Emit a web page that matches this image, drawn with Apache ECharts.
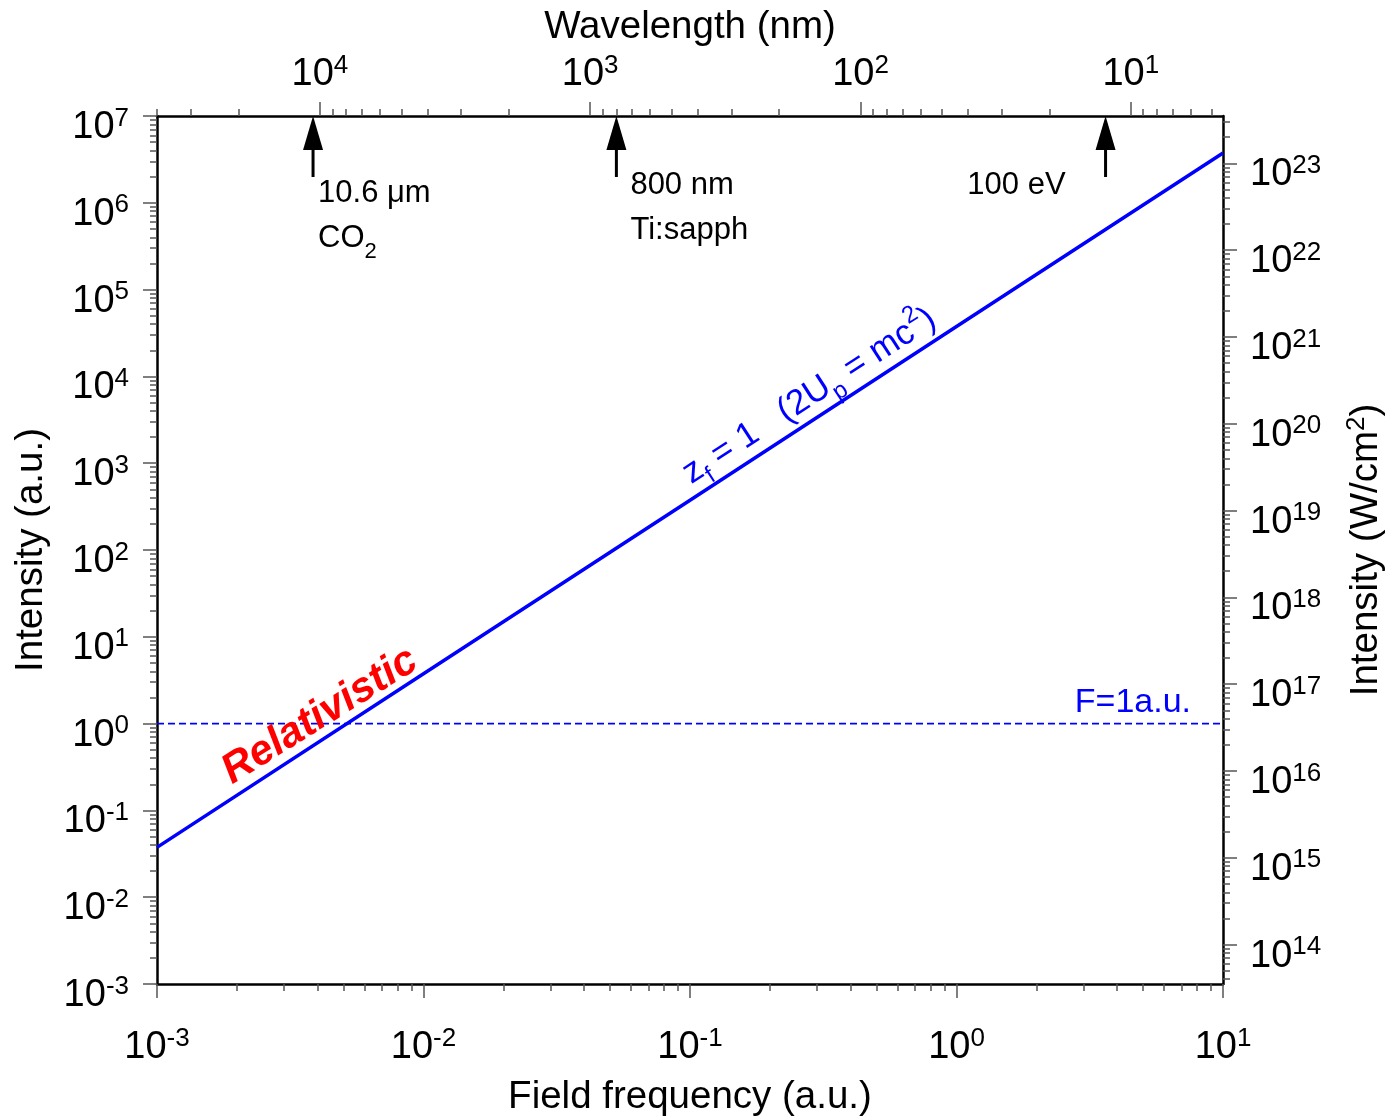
<!DOCTYPE html>
<html>
<head>
<meta charset="utf-8">
<script src="https://cdn.jsdelivr.net/npm/echarts@6/dist/echarts.min.js"></script>
<style>
  html, body { margin: 0; padding: 0; background: #fff; }
  #chart { width: 1390px; height: 1117px; }
</style>
</head>
<body>
<div id="chart"></div>
<script>
// z_f = 1 line: field frequency (a.u.) -> intensity (a.u.)
const frequency = [1e-3, 1e-2, 1e-1, 1, 10];
const intensityZf1 = [0.0375, 3.75, 375, 37500, 3750000];
// F = 1 a.u. level
const fieldOneFreq = [1e-3, 10];
const fieldOneIntensity = [1, 1];

// decade exponents shown on the axes
const freqDecades = [-3, -2, -1, 0, 1];
const intensityDecades = [-3, -2, -1, 0, 1, 2, 3, 4, 5, 6, 7];
const wcm2Decades = [14, 15, 16, 17, 18, 19, 20, 21, 22, 23];
const wavelengthDecades = [1, 2, 3, 4];
const minorSteps = [2, 3, 4, 5, 6, 7, 8, 9];

// 1 a.u. of intensity in W/cm2 (right axis)
const auToWcm2 = 3.51e16;
// wavelength at the right and left edges of the top axis (nm)
const wavelengthRange = [4.56, 40050];

// sources marked on the wavelength axis
const sourceWavelength = [10600, 800, 12.4];
const sourceLine1 = ['{n|10.6 μm}', '{n|800 nm}', '{n|100 eV}'];
const sourceLine2 = ['{n|CO}{sub|2}', '{n|Ti:sapph}', ''];

const FONT = "'Liberation Sans', Arial, Helvetica, sans-serif";
const lg = Math.log10;

const freqRange = [freqDecades[0], freqDecades[freqDecades.length - 1]];
const intRange = [intensityDecades[0], intensityDecades[intensityDecades.length - 1]];
const wcmRange = [intRange[0] + lg(auToWcm2), intRange[1] + lg(auToWcm2)];
const wlRange = [lg(wavelengthRange[0]), lg(wavelengthRange[1])];

function minorTicks (range) {
  const out = [];
  for (let n = Math.floor(range[0]); n <= Math.ceil(range[1]); n++) {
    minorSteps.forEach(function (k) {
      const v = n + lg(k);
      if (v > range[0] && v < range[1]) out.push(v);
    });
  }
  return out;
}

const powRich = {
  b: { fontFamily: FONT, fontSize: 38, color: '#000', lineHeight: 41, verticalAlign: 'bottom' },
  s: { fontFamily: FONT, fontSize: 26, color: '#000', verticalAlign: 'top' }
};
function powLabel (v) {
  return '{b|10}{s|' + Math.round(v) + '}';
}

const frame = { show: true, onZero: false, lineStyle: { color: '#000', width: 2.5 } };
const tickLine = { color: '#555', width: 1.5 };
const nameStyle = { fontFamily: FONT, fontSize: 38.5, color: '#000' };

function minorAxis (position, range, inverse) {
  return {
    type: 'value',
    position: position,
    inverse: !!inverse,
    min: range[0],
    max: range[1],
    axisLine: { show: false, onZero: false },
    axisTick: { show: true, inside: false, length: 7, lineStyle: tickLine, customValues: minorTicks(range) },
    axisLabel: { show: false },
    splitLine: { show: false }
  };
}

const chart = echarts.init(document.getElementById('chart'));

function renderSource (params, api) {
  const p = api.coord([api.value(0), api.value(1)]);
  const i = params.dataIndex;
  const x = p[0];
  const top = p[1];
  // text offsets from the arrow tip
  const spots = [[5, 77, 'left'], [14, 69.5, 'left'], [-40, 69.5, 'right']];
  const s = spots[i];
  const rich = {
    n: { fontFamily: FONT, fontSize: 31, fill: '#000', lineHeight: 40, verticalAlign: 'top' },
    sub: { fontFamily: FONT, fontSize: 22, fill: '#000', verticalAlign: 'bottom' }
  };
  const children = [
    { type: 'polygon', shape: { points: [[x, top], [x - 10, top + 34], [x + 10, top + 34]] }, style: { fill: '#000' } },
    { type: 'rect', shape: { x: x - 1.5, y: top + 32, width: 3, height: 29 }, style: { fill: '#000' } },
    { type: 'text', x: x + s[0], y: top + s[1] + 4.5,
      style: { text: sourceLine1[i], rich: rich, align: s[2], verticalAlign: 'middle' } }
  ];
  if (sourceLine2[i]) {
    children.push({ type: 'text', x: x + s[0], y: top + s[1] + 49.5,
      style: { text: sourceLine2[i], rich: rich, align: s[2], verticalAlign: 'middle' } });
  }
  return { type: 'group', children: children };
}

const noteText = [
  'F=1a.u.',
  'Relativistic',
  '{n|z}{sub|f}{n| = 1   (2U}{sub|p}{n| = mc}{sup|2}{n|)}'
];
const noteStyle = [
  { rotation: 0, style: { fill: '#0000ff', fontFamily: FONT, fontSize: 34, align: 'right', verticalAlign: 'middle' } },
  { rotation: 32 * Math.PI / 180, style: { fill: '#ff0000', fontFamily: FONT, fontSize: 42, fontWeight: 'bold', fontStyle: 'italic', align: 'center', verticalAlign: 'middle' } },
  { rotation: 33 * Math.PI / 180, style: { fill: '#0000ff', align: 'center', verticalAlign: 'middle',
    rich: {
      n: { fontFamily: FONT, fontSize: 35, fill: '#0000ff', lineHeight: 50, verticalAlign: 'middle' },
      sub: { fontFamily: FONT, fontSize: 24, fill: '#0000ff', verticalAlign: 'bottom' },
      sup: { fontFamily: FONT, fontSize: 24, fill: '#0000ff', verticalAlign: 'top' }
    } } }
];
function renderNote (params, api) {
  const p = api.coord([api.value(0), api.value(1)]);
  const i = params.dataIndex;
  return {
    type: 'text',
    x: p[0],
    y: p[1],
    rotation: noteStyle[i].rotation,
    style: Object.assign({ text: noteText[i] }, noteStyle[i].style)
  };
}

const option = {
  animation: false,
  backgroundColor: '#fff',
  textStyle: { fontFamily: FONT },
  grid: { left: 157, right: 167, top: 116, bottom: 133, containLabel: false, outerBoundsMode: 'none' },
  xAxis: [
    {
      type: 'value',
      position: 'bottom',
      min: freqRange[0],
      max: freqRange[1],
      interval: 1,
      axisLine: frame,
      axisTick: { show: true, inside: false, length: 14, lineStyle: tickLine },
      axisLabel: { formatter: powLabel, rich: powRich, margin: 42, showMinLabel: true, showMaxLabel: true },
      splitLine: { show: false },
      name: 'Field frequency (a.u.)',
      nameLocation: 'middle',
      nameGap: 94,
      nameMoveOverlap: false,
      nameTextStyle: nameStyle
    },
    {
      type: 'value',
      position: 'top',
      inverse: true,
      min: wlRange[0],
      max: wlRange[1],
      axisLine: frame,
      axisTick: { show: true, inside: false, length: 14, lineStyle: tickLine, customValues: wavelengthDecades },
      axisLabel: { formatter: powLabel, rich: powRich, margin: 22, customValues: wavelengthDecades },
      splitLine: { show: false },
      name: 'Wavelength (nm)',
      nameLocation: 'middle',
      nameGap: 69,
      nameMoveOverlap: false,
      nameTextStyle: nameStyle
    },
    minorAxis('bottom', freqRange),
    minorAxis('top', wlRange, true)
  ],
  yAxis: [
    {
      type: 'value',
      position: 'left',
      min: intRange[0],
      max: intRange[1],
      interval: 1,
      axisLine: frame,
      axisTick: { show: true, inside: false, length: 14, lineStyle: tickLine },
      axisLabel: { formatter: powLabel, rich: powRich, margin: 28, padding: [20, 0, 0, 0], showMinLabel: true, showMaxLabel: true },
      splitLine: { show: false },
      name: 'Intensity (a.u.)',
      nameLocation: 'middle',
      nameGap: 106,
      nameMoveOverlap: false,
      nameTextStyle: nameStyle
    },
    {
      type: 'value',
      position: 'right',
      min: wcmRange[0],
      max: wcmRange[1],
      axisLine: frame,
      axisTick: { show: true, inside: false, length: 14, lineStyle: tickLine, customValues: wcm2Decades },
      axisLabel: { formatter: powLabel, rich: powRich, margin: 27, padding: [20, 0, 0, 0], customValues: wcm2Decades },
      splitLine: { show: false },
      name: '{n|Intensity (W/cm}{s|2}{n|)}',
      nameLocation: 'middle',
      nameGap: 121,
      nameMoveOverlap: false,
      nameTextStyle: {
        rich: {
          n: { fontFamily: FONT, fontSize: 38.5, color: '#000', lineHeight: 42, verticalAlign: 'bottom' },
          s: { fontFamily: FONT, fontSize: 26, color: '#000', verticalAlign: 'top' }
        }
      }
    },
    minorAxis('left', intRange),
    minorAxis('right', wcmRange)
  ],
  series: [
    {
      type: 'line',
      name: 'z_f = 1',
      xAxisIndex: 0,
      yAxisIndex: 0,
      data: frequency.map(function (f, i) { return [lg(f), lg(intensityZf1[i])]; }),
      symbol: 'none',
      silent: true,
      z: 3,
      lineStyle: { color: '#0000ff', width: 3.5 }
    },
    {
      type: 'line',
      name: 'F = 1 a.u.',
      xAxisIndex: 0,
      yAxisIndex: 0,
      data: fieldOneFreq.map(function (f, i) { return [lg(f), lg(fieldOneIntensity[i])]; }),
      symbol: 'none',
      silent: true,
      z: 2,
      lineStyle: { color: '#0000ff', width: 1.8, type: [7, 4] }
    },
    {
      type: 'custom',
      name: 'sources',
      xAxisIndex: 1,
      yAxisIndex: 0,
      clip: false,
      silent: true,
      z: 5,
      data: sourceWavelength.map(function (w) { return [lg(w), intRange[1]]; }),
      renderItem: renderSource
    },
    {
      type: 'custom',
      name: 'notes',
      xAxisIndex: 0,
      yAxisIndex: 0,
      clip: false,
      silent: true,
      z: 6,
      // anchors in (log10 frequency, log10 intensity)
      data: [[0.88, 0.243], [-2.389, 0.088], [-0.552, 3.772]],
      renderItem: renderNote
    }
  ]
};

chart.setOption(option);
</script>
</body>
</html>
